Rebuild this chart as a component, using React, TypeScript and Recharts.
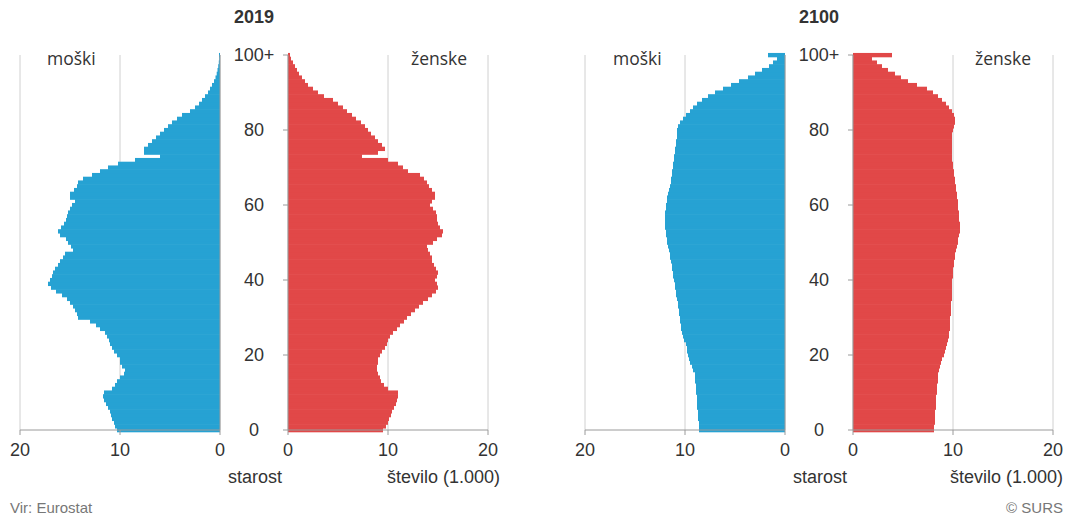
import React from "react";
import { BarChart, Bar, XAxis, YAxis, CartesianGrid } from "recharts";

// age groups 0..100 (100 = 100+)
const ages = [
  0, 1, 2, 3, 4, 5, 6, 7, 8, 9, 10, 11, 12, 13, 14, 15, 16, 17, 18, 19,
  20, 21, 22, 23, 24, 25, 26, 27, 28, 29, 30, 31, 32, 33, 34, 35, 36, 37, 38, 39,
  40, 41, 42, 43, 44, 45, 46, 47, 48, 49, 50, 51, 52, 53, 54, 55, 56, 57, 58, 59,
  60, 61, 62, 63, 64, 65, 66, 67, 68, 69, 70, 71, 72, 73, 74, 75, 76, 77, 78, 79,
  80, 81, 82, 83, 84, 85, 86, 87, 88, 89, 90, 91, 92, 93, 94, 95, 96, 97, 98, 99, 100,
];
const ageTicks = [0, 20, 40, 60, 80, 100];
const countTicks = [0, 10, 20];

// thousands
const male2019 = [
  10.3, 10.5, 10.6, 10.8, 10.9, 11.0, 11.2, 11.4, 11.6, 11.7,
  11.6, 10.8, 10.5, 10.3, 10.0, 9.6, 9.5, 9.8, 10.0, 10.0,
  10.3, 10.6, 10.8, 11.0, 11.1, 11.3, 11.5, 12.0, 12.4, 13.0,
  14.2, 14.3, 14.5, 14.7, 15.0, 15.3, 15.8, 16.4, 16.9, 17.2,
  17.0, 16.8, 16.7, 16.5, 16.2, 16.0, 15.7, 15.5, 14.7, 14.9,
  15.2, 15.4, 16.0, 16.2, 15.9, 15.6, 15.4, 15.3, 15.2, 15.0,
  14.8, 14.5, 15.0, 15.0, 14.6, 14.3, 14.2, 13.7, 12.8, 12.0,
  11.2, 10.2, 8.5, 6.0, 7.6, 7.6, 7.2, 6.8, 6.4, 6.0,
  5.6, 5.2, 4.8, 4.3, 3.8, 3.0, 2.5, 2.1, 1.8, 1.5,
  1.2, 1.0, 0.8, 0.6, 0.45, 0.33, 0.25, 0.18, 0.12, 0.08, 0.1,
];
const female2019 = [
  9.5, 9.8, 10.0, 10.1, 10.3, 10.4, 10.6, 10.8, 10.9, 11.0,
  11.0, 10.0, 9.6, 9.3, 9.2, 9.0, 8.9, 8.9, 9.0, 9.0,
  9.2, 9.4, 9.7, 9.9, 10.0, 10.2, 10.5, 10.9, 11.2, 11.6,
  11.9, 12.3, 12.7, 13.1, 13.5, 14.0, 14.4, 14.8, 15.0, 14.9,
  14.7, 14.9, 15.0, 14.8, 14.6, 14.4, 14.4, 14.2, 14.0, 13.9,
  14.5, 14.9, 15.4, 15.5, 15.2, 15.0, 14.9, 14.9, 14.8, 14.5,
  14.2, 14.4, 14.7, 14.7, 14.4, 14.1, 13.9, 13.6, 13.2, 12.0,
  11.5, 11.0, 10.0, 7.4, 9.0, 9.7, 9.4, 9.0, 8.7, 8.3,
  8.0, 7.7, 7.3, 6.8, 6.4, 5.9, 5.5, 5.0, 4.5, 3.6,
  3.0, 2.5, 2.0, 1.7, 1.4, 1.1, 0.9, 0.7, 0.5, 0.3, 0.2,
];
const male2100 = [
  8.6, 8.6, 8.6, 8.7, 8.7, 8.7, 8.8, 8.8, 8.8, 8.8,
  8.9, 8.9, 8.9, 9.0, 9.0, 9.0, 9.2, 9.3, 9.5, 9.6,
  9.7, 9.8, 9.8, 9.9, 10.1, 10.2, 10.3, 10.4, 10.4, 10.5,
  10.5, 10.6, 10.6, 10.7, 10.7, 10.8, 10.9, 10.9, 11.0, 11.0,
  11.1, 11.2, 11.2, 11.3, 11.3, 11.4, 11.5, 11.5, 11.6, 11.7,
  11.8, 11.8, 11.9, 11.9, 12.0, 12.0, 12.0, 12.0, 12.0, 11.9,
  11.9, 11.8, 11.8, 11.7, 11.6, 11.5, 11.4, 11.4, 11.3, 11.3,
  11.2, 11.2, 11.1, 11.1, 11.0, 11.0, 10.9, 10.9, 10.8, 10.8,
  10.8, 10.7, 10.5, 10.2, 9.9, 9.5, 9.2, 8.8, 8.3, 7.7,
  7.0, 6.2, 5.4, 4.6, 3.7, 3.0, 2.3, 1.6, 1.2, 0.8, 1.7,
];
const female2100 = [
  8.1, 8.1, 8.2, 8.2, 8.2, 8.2, 8.3, 8.3, 8.3, 8.3,
  8.4, 8.4, 8.4, 8.5, 8.5, 8.5, 8.6, 8.7, 8.8, 8.9,
  9.1, 9.2, 9.3, 9.4, 9.5, 9.6, 9.6, 9.7, 9.7, 9.7,
  9.7, 9.8, 9.8, 9.8, 9.8, 9.9, 9.9, 9.9, 9.9, 9.9,
  9.9, 10.0, 10.0, 10.0, 10.1, 10.1, 10.2, 10.2, 10.3, 10.4,
  10.5, 10.5, 10.6, 10.7, 10.7, 10.7, 10.6, 10.6, 10.6, 10.5,
  10.5, 10.5, 10.4, 10.4, 10.3, 10.3, 10.2, 10.2, 10.1, 10.1,
  10.0, 10.0, 9.9, 9.9, 9.9, 9.9, 9.9, 9.9, 9.9, 9.9,
  10.0, 10.1, 10.2, 10.2, 10.1, 9.9, 9.6, 9.3, 8.9, 8.5,
  8.0, 7.4, 6.4, 5.5, 4.8, 4.2, 3.5, 2.9, 2.4, 1.9, 3.9,
];

const BLUE = "#26a2d3";
const RED = "#e14848";
const AXIS = "#9a9a9a";
const GRID = "#d0d0d0";
const TEXT = "#333";
const FONT = "'Liberation Sans', Arial, sans-serif";
const PLOT_TOP = 55;
const PLOT_BOTTOM = 430;
const STEP = (PLOT_BOTTOM - PLOT_TOP) / 100;

const toRows = (values: number[]) => ages.map((age, i) => ({ age, v: values[i] }));

// fill the whole 1-year band so neighbouring bars touch without seams
const BandRect = ({ x, y, width, height, fill }: any) => {
  if (!width) return null;
  const x0 = width < 0 ? x + width : x;
  const cy = y + height / 2;
  return <rect x={x0} y={cy - STEP / 2 - 0.3} width={Math.abs(width)} height={STEP + 0.6} fill={fill} />;
};

const AgeTick = ({ x, y, payload }: any) => (
  <text x={x - 27} y={y} dy="0.36em" textAnchor="middle" fontSize={18} fill={TEXT} fontFamily={FONT}>
    {payload.value === 100 ? "100+" : payload.value}
  </text>
);

const xAxisProps = {
  type: "number" as const,
  domain: [0, 20],
  ticks: countTicks,
  height: 30,
  tickSize: 5,
  tickMargin: 8,
  stroke: AXIS,
  tick: { fill: TEXT, fontSize: 18, fontFamily: FONT },
  interval: 0 as const,
};

function MaleSide({ values, left }: { values: number[]; left: number }) {
  return (
    <BarChart
      layout="vertical"
      width={230}
      height={516}
      data={toRows(values)}
      margin={{ top: PLOT_TOP, right: 0, bottom: 516 - PLOT_BOTTOM - 30, left: 20 }}
      barCategoryGap={0}
      style={{ position: "absolute", left, top: 0 }}
    >
      <CartesianGrid horizontal={false} stroke={GRID} />
      <XAxis {...xAxisProps} reversed />
      <YAxis
        type="number"
        dataKey="age"
        domain={[0, 100]}
        ticks={ageTicks}
        reversed
        orientation="right"
        width={10}
        tick={false}
        tickSize={5}
        stroke={AXIS}
      />
      <Bar dataKey="v" fill={BLUE} shape={<BandRect />} isAnimationActive={false} />
    </BarChart>
  );
}

function FemaleSide({ values, left }: { values: number[]; left: number }) {
  return (
    <BarChart
      layout="vertical"
      width={300}
      height={516}
      data={toRows(values)}
      margin={{ top: PLOT_TOP, right: 32, bottom: 516 - PLOT_BOTTOM - 30, left: 0 }}
      barCategoryGap={0}
      style={{ position: "absolute", left, top: 0 }}
    >
      <CartesianGrid horizontal={false} stroke={GRID} />
      <XAxis {...xAxisProps} />
      <YAxis
        type="number"
        dataKey="age"
        domain={[0, 100]}
        ticks={ageTicks}
        reversed
        orientation="left"
        width={68}
        tick={<AgeTick />}
        tickSize={5}
        stroke={AXIS}
        interval={0}
      />
      <Bar dataKey="v" fill={RED} shape={<BandRect />} isAnimationActive={false} />
    </BarChart>
  );
}

export default function App() {
  const label = { fontSize: 17.5, fill: TEXT, fontFamily: "'Open Sans', sans-serif" };
  const small = { fontSize: 18, fill: TEXT, fontFamily: FONT };
  return (
    <div style={{ position: "absolute", left: 0, top: 0, width: 1078, height: 516, background: "#fff" }}>
      <MaleSide values={male2019} left={0} />
      <FemaleSide values={female2019} left={220} />
      <MaleSide values={male2100} left={565} />
      <FemaleSide values={female2100} left={785} />
      <svg width={1078} height={516} style={{ position: "absolute", left: 0, top: 0, pointerEvents: "none" }}>
        <text x={254} y={23} textAnchor="middle" fontSize={18} fontWeight="bold" fill={TEXT} fontFamily={FONT}>2019</text>
        <text x={819} y={23} textAnchor="middle" fontSize={18} fontWeight="bold" fill={TEXT} fontFamily={FONT}>2100</text>
        <text x={47} y={65} {...label}>moški</text>
        <text x={411} y={65} {...label}>ženske</text>
        <text x={613} y={65} {...label}>moški</text>
        <text x={975} y={65} {...label}>ženske</text>
        <text x={255} y={483} textAnchor="middle" {...small}>starost</text>
        <text x={500} y={483} textAnchor="end" {...small}>število (1.000)</text>
        <text x={820} y={483} textAnchor="middle" {...small}>starost</text>
        <text x={1063} y={483} textAnchor="end" {...small}>število (1.000)</text>
        <text x={10} y={513} fontSize={15} fill="#777" fontFamily={FONT}>Vir: Eurostat</text>
        <text x={1063} y={513} textAnchor="end" fontSize={15} fill="#777" fontFamily={FONT}>© SURS</text>
      </svg>
    </div>
  );
}
